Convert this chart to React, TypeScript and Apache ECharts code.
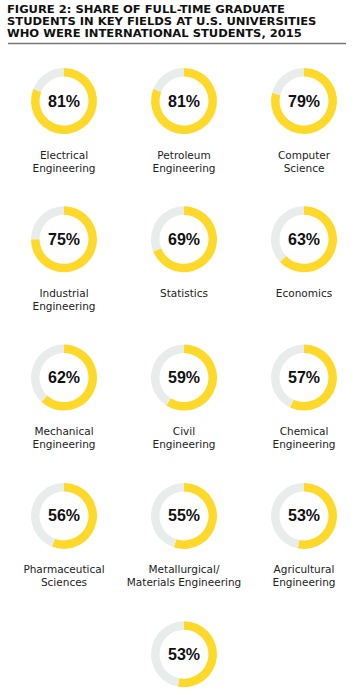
import React, { useEffect, useRef } from "react";
import * as echarts from "echarts";

const titleLines = [
  "FIGURE 2: SHARE OF FULL-TIME GRADUATE",
  "STUDENTS IN KEY FIELDS AT U.S. UNIVERSITIES",
  "WHO WERE INTERNATIONAL STUDENTS, 2015",
];

const fields = [
  "Electrical\nEngineering",
  "Petroleum\nEngineering",
  "Computer\nScience",
  "Industrial\nEngineering",
  "Statistics",
  "Economics",
  "Mechanical\nEngineering",
  "Civil\nEngineering",
  "Chemical\nEngineering",
  "Pharmaceutical\nSciences",
  "Metallurgical/\nMaterials Engineering",
  "Agricultural\nEngineering",
  "",
];

const shares = [81, 81, 79, 75, 69, 63, 62, 59, 57, 56, 55, 53, 53];

const YELLOW = "#FFD92A";
const GRAY = "#E8ECEB";

export default function App() {
  const ref = useRef<HTMLDivElement>(null);
  useEffect(() => {
    document.body.style.margin = "0";
    const chart = echarts.init(ref.current!, undefined, { renderer: "svg" });
    const colX = [64, 184, 304];
    const rowY0 = 101;
    const rowStep = 138.3;
    const series: any[] = [];
    const graphics: any[] = [];
    shares.forEach((v, i) => {
      const cx = i === 12 ? colX[1] : colX[i % 3];
      const cy = rowY0 + Math.floor(i / 3) * rowStep;
      series.push({
        type: "pie",
        silent: true,
        center: [cx, cy],
        radius: [24.5, 33],
        startAngle: 90,
        clockwise: true,
        label: { show: false },
        labelLine: { show: false },
        data: [
          {
            value: v,
            itemStyle: { color: YELLOW },
            label: {
              show: true,
              position: "center",
              formatter: `${v}%`,
              fontFamily: "Liberation Sans",
              fontWeight: "bold",
              fontSize: 16,
              color: "#111",
            },
          },
          { value: 100 - v, itemStyle: { color: GRAY } },
        ],
      });
      if (fields[i]) {
        graphics.push({
          type: "text",
          x: cx,
          y: cy + 47,
          style: {
            text: fields[i],
            fill: "#222",
            font: "10.5px 'DejaVu Sans'",
            textAlign: "center",
            textVerticalAlign: "top",
            lineHeight: 13,
          },
        });
      }
    });
    titleLines.forEach((t, i) => {
      graphics.push({
        type: "text",
        x: 7,
        y: 9.5 + i * 12.3,
        scaleX: 1.1,
        style: {
          text: t,
          fill: "#111",
          font: "bold 10.5px 'DejaVu Sans'",
          textAlign: "left",
          textVerticalAlign: "middle",
        },
      });
    });
    graphics.push({
      type: "line",
      shape: { x1: 8, y1: 43.5, x2: 346, y2: 43.5 },
      style: { stroke: "#777", lineWidth: 1.5 },
    });
    chart.setOption({
      animation: false,
      backgroundColor: "#fff",
      series,
      graphic: graphics,
    });
    return () => chart.dispose();
  }, []);
  return <div ref={ref} style={{ width: 361, height: 695 }} />;
}
